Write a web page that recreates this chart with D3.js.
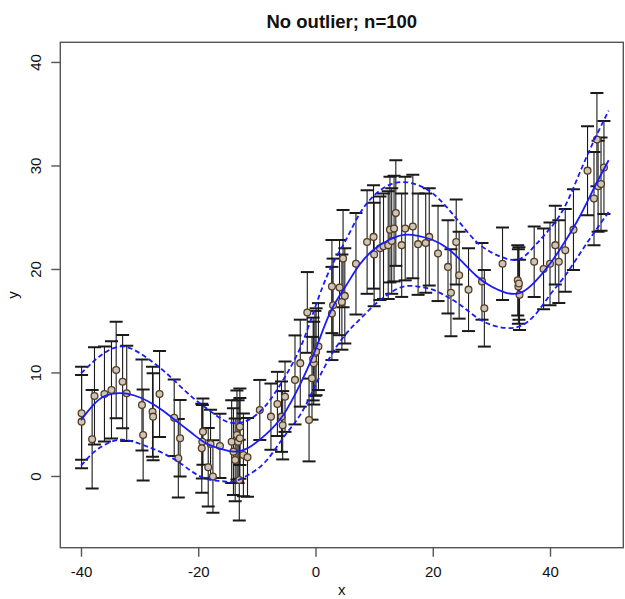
<!DOCTYPE html>
<html>
<head>
<meta charset="utf-8">
<script src="https://cdn.jsdelivr.net/npm/d3@7"></script>
<style>
  html, body { margin: 0; padding: 0; background: #fff; }
  svg { display: block; font-family: "Liberation Sans", Arial, sans-serif; }
</style>
</head>
<body>
<svg id="chart" width="625" height="599"></svg>
<script>
// Observations: x position, y value, half-length of the error bar
const obsX = [
  -39.9, -39.9, -38.1, -37.7, -36.0, -34.8, -34.0, -32.9, -32.2, -29.6,
  -29.4, -27.8, -27.7, -26.6, -24.1, -23.1, -23.4,
  -19.2, -19.3, -19.4, -18.3, -17.5, -17.9, -16.3, -14.3, -13.4, -13.2,
  -14.0, -13.7, -12.3, -11.6, -13.0, -12.9, -12.9, -9.5,
  -7.6, -6.5, -5.8, -5.2, -5.6, -3.5, -2.6, -1.4, -1.1, -0.6,
  -0.1, 0.5, 0.1, -0.3, 2.8, 2.8, 4.1, 4.5, 4.7, 5.0, 3.0, -0.4,
  6.9, 8.8, 9.9, 10.0, 11.0, 11.6, 12.4, 12.7, 13.0, 13.4,
  13.7, 14.7, 15.3, 16.6, 17.5, 18.8, 19.4, 20.9, 22.6, 23.1,
  24.0, 24.5, 26.1, 28.4, 28.8,
  31.9, 34.5, 34.6, 34.8, 34.7, 37.3, 38.9, 40.0, 40.9, 41.5,
  42.6, 44.0, 46.4, 47.5, 48.0, 48.2, 48.7, 49.2
];
const obsY = [
  6.06, 5.25, 3.55, 7.73, 7.92, 8.31, 10.24, 9.11, 7.99, 6.86,
  3.96, 6.21, 5.73, 7.92, 5.62, 3.64, 1.71,
  4.28, 3.31, 2.67, 0.84, -0.06, 3.09, 2.90, 3.31, 3.96, 3.31,
  2.35, 1.55, 2.03, 1.80, -0.39, 3.64, 4.76, 6.38,
  5.73, 6.96, 5.73, 7.66, 4.90, 9.28, 10.9, 15.8, 5.41, 9.44,
  11.85, 12.5, 12.0, 10.9, 15.7, 18.3, 18.2, 16.8, 21.0, 17.4, 16.5, 11.3,
  20.5, 22.6, 23.1, 21.4, 22.0, 22.2, 22.3, 23.8, 22.7, 23.9,
  25.4, 22.3, 23.9, 24.1, 22.4, 22.5, 23.1, 21.5, 20.2, 17.7,
  22.6, 19.4, 18.0, 18.8, 16.2,
  20.5, 18.9, 18.3, 17.5, 18.6, 20.7, 20.0, 20.5, 22.3, 20.7,
  21.8, 23.8, 29.5, 26.8, 32.5, 28.0, 28.2, 29.8
];
const obsErr = [
  4.5, 4.5, 4.75, 4.7, 4.6, 4.7, 4.67, 4.5, 4.6, 4.4,
  4.4, 4.35, 4.2, 4.16, 3.7, 3.7, 3.8,
  3.2, 3.55, 4.3, 3.8, 3.5, 3.3, 3.1, 4.0, 4.3, 4.0,
  4.2, 4.0, 4.0, 3.8, 3.9, 3.9, 3.7, 2.9,
  3.2, 3.1, 3.4, 3.4, 3.3, 4.3, 4.2, 3.9, 4.0, 4.0,
  4.1, 4.2, 4.2, 4.0, 4.5, 4.5, 4.6, 4.6, 4.7, 4.6, 4.5, 4.0,
  4.9, 5.0, 5.0, 5.0, 5.0, 5.1, 5.2, 5.1, 5.1, 5.1,
  5.1, 5.0, 5.0, 5.0, 4.9, 4.8, 4.7, 4.6, 4.5, 4.2,
  4.1, 4.2, 4.0, 3.7, 3.7,
  3.5, 3.4, 3.6, 3.4, 3.5, 3.4, 3.9, 4.0, 3.8, 4.0,
  4.0, 3.9, 4.3, 4.5, 4.5, 4.4, 4.5, 4.5
];

// Fitted curve and its dashed upper/lower bands
const fitX = [-40, -38, -36, -33.5, -31, -28.5, -26, -23.5, -21, -18.5, -16, -14, -11.5,
  -8.5, -5.5, -2.5, 0, 2.5, 5, 7.5, 10, 12.5, 15, 17.5, 20, 22.5, 25, 27.5, 30,
  32.5, 35, 37.5, 40, 42.5, 45, 47.5, 50];
const fitY = [5.4, 6.8, 7.7, 8.0, 7.8, 7.2, 6.3, 5.2, 4.1, 3.1, 2.6, 2.35, 2.7,
  4.0, 5.9, 9.0, 12.2, 15.8, 18.2, 20.4, 21.9, 22.8, 23.3, 23.2, 22.8, 22.0, 20.7, 19.3, 18.3,
  17.7, 17.7, 18.8, 20.5, 22.6, 25.0, 27.8, 30.5];
const upperY = [9.9, 11.0, 11.9, 12.5, 12.2, 11.3, 10.2, 8.9, 7.6, 6.5, 5.5, 5.1, 5.4,
  6.8, 9.3, 12.5, 16.4, 20.0, 22.6, 25.3, 27.1, 28.1, 28.4, 28.1, 27.3, 25.9, 24.2, 22.6, 21.6,
  21.0, 21.0, 22.3, 23.9, 26.0, 29.2, 32.4, 35.3];
const lowerY = [1.0, 2.2, 3.0, 3.5, 3.3, 2.8, 2.2, 1.4, 0.4, -0.3, -0.5, -0.55, 0.1,
  1.4, 3.7, 6.0, 8.8, 11.5, 13.6, 15.1, 16.5, 17.6, 18.3, 18.3, 18.0, 17.3, 16.4, 15.3, 14.6,
  14.3, 14.5, 15.6, 17.5, 19.3, 21.4, 23.5, 25.5];

const xTicks = [-40, -20, 0, 20, 40];
const yTicks = [0, 10, 20, 30, 40];
const titleText = "No outlier; n=100";

const svg = d3.select("#chart");
const plot = { left: 60.3, right: 623.3, top: 42.3, bottom: 547.7 };

const x = d3.scaleLinear().domain([-43.53, 52.5]).range([plot.left, plot.right]);
const y = d3.scaleLinear().domain([-6.93, 41.9]).range([plot.bottom, plot.top]);

const clipId = "plotclip";
svg.append("defs").append("clipPath").attr("id", clipId)
  .append("rect")
  .attr("x", plot.left).attr("y", plot.top)
  .attr("width", plot.right - plot.left).attr("height", plot.bottom - plot.top);

const g = svg.append("g").attr("clip-path", `url(#${clipId})`);

const obs = obsX.map((v, i) => ({ x: v, y: obsY[i], e: obsErr[i] }));

// error bars
const capHalf = 6.5;
const bars = g.append("g").attr("stroke", "#1a1a1a").attr("stroke-width", 1.1).attr("fill", "none");
obs.forEach(d => {
  const px = x(d.x), top = y(d.y + d.e), bot = y(d.y - d.e);
  bars.append("line").attr("x1", px).attr("x2", px).attr("y1", top).attr("y2", bot);
  bars.append("line").attr("x1", px - capHalf).attr("x2", px + capHalf).attr("y1", top).attr("y2", top)
    .attr("stroke-width", 2);
  bars.append("line").attr("x1", px - capHalf).attr("x2", px + capHalf).attr("y1", bot).attr("y2", bot)
    .attr("stroke-width", 2);
});

// points
g.append("g").selectAll("circle").data(obs).join("circle")
  .attr("cx", d => x(d.x)).attr("cy", d => y(d.y)).attr("r", 3.4)
  .attr("fill", "#c9c6bd").attr("stroke", "#5a3c1c").attr("stroke-width", 1.3);

// fitted line and bands
const line = d3.line().curve(d3.curveNatural);
const mk = ys => line(fitX.map((v, i) => [x(v), y(ys[i])]));
g.append("path").attr("d", mk(upperY)).attr("fill", "none")
  .attr("stroke", "#1a1aff").attr("stroke-width", 1.8).attr("stroke-dasharray", "5,3");
g.append("path").attr("d", mk(lowerY)).attr("fill", "none")
  .attr("stroke", "#1a1aff").attr("stroke-width", 1.8).attr("stroke-dasharray", "5,3");
g.append("path").attr("d", mk(fitY)).attr("fill", "none")
  .attr("stroke", "#1a1aff").attr("stroke-width", 1.8);

// frame
svg.append("rect")
  .attr("x", plot.left).attr("y", plot.top)
  .attr("width", plot.right - plot.left).attr("height", plot.bottom - plot.top)
  .attr("fill", "none").attr("stroke", "#555").attr("stroke-width", 1.4);

// axes
const xAxis = d3.axisBottom(x).tickValues(xTicks).tickSize(9).tickPadding(10).tickSizeOuter(0);
const xg = svg.append("g").attr("transform", `translate(0,${plot.bottom})`).call(xAxis);
xg.select(".domain").remove();
xg.selectAll(".tick line").attr("stroke", "#555").attr("stroke-width", 1.4);
xg.selectAll(".tick text").attr("font-size", 15).attr("fill", "#111")
  .attr("font-family", "Liberation Sans, Arial, sans-serif")
  .text(d => d < 0 ? "-" + Math.abs(d) : d);

const yAxis = d3.axisLeft(y).tickValues(yTicks).tickSize(9).tickPadding(0).tickSizeOuter(0);
const yg = svg.append("g").attr("transform", `translate(${plot.left},0)`).call(yAxis);
yg.select(".domain").remove();
yg.selectAll(".tick line").attr("stroke", "#555").attr("stroke-width", 1.4);
yg.selectAll(".tick text").attr("font-size", 15).attr("fill", "#111")
  .attr("font-family", "Liberation Sans, Arial, sans-serif")
  .attr("x", 0).attr("dy", null)
  .attr("text-anchor", "middle")
  .attr("dominant-baseline", "central")
  .attr("transform", "translate(-25,0) rotate(-90)");

// titles
svg.append("text").attr("x", (plot.left + plot.right) / 2).attr("y", 21)
  .attr("text-anchor", "middle").attr("dominant-baseline", "central")
  .attr("font-size", 18.5).attr("font-weight", "bold").attr("fill", "#111")
  .text(titleText);
svg.append("text").attr("x", (plot.left + plot.right) / 2).attr("y", 589)
  .attr("text-anchor", "middle").attr("dominant-baseline", "central")
  .attr("font-size", 15).attr("fill", "#111").text("x");
svg.append("text").attr("transform", `translate(12,${(plot.top + plot.bottom) / 2}) rotate(-90)`)
  .attr("text-anchor", "middle").attr("dominant-baseline", "central")
  .attr("font-size", 15).attr("fill", "#111").text("y");
</script>
</body>
</html>
